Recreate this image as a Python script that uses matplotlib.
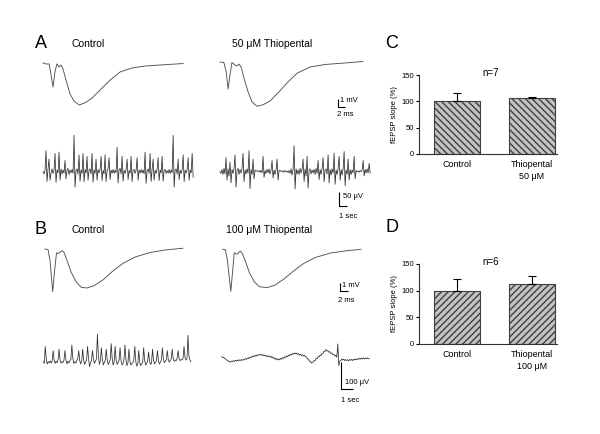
import matplotlib
matplotlib.use("Agg")
import matplotlib.pyplot as plt
import numpy as np

plt.rcParams["font.family"] = ["Liberation Sans", "DejaVu Sans"]

W, H = 600, 434

# field EPSP traces, time in ms and amplitude in mV
fepsp_a_ctrl_t = [0, 0.8, 1.6, 2.1, 2.6, 3.1, 3.6, 4.2, 4.7, 5.2, 6.0, 7.0, 8.1, 9.4,
                  10.9, 12.7, 14.8, 17.4, 20.0, 23.1, 26.5, 30.4, 36.4]
fepsp_a_ctrl_v = [0, -0.13, -0.13, -1.6, -3.2, -1.2, -0.13, -0.53, -0.27, -0.8, -2.3,
                  -4.1, -5.1, -5.6, -5.3, -4.7, -3.6, -2.3, -1.2, -0.67, -0.4, -0.27, -0.07]

fepsp_a_thio_t = [0, 1.0, 1.6, 2.1, 2.6, 3.1, 3.9, 4.4, 4.9, 5.5, 6.2, 7.3, 8.3, 9.6,
                  11.2, 13.0, 15.1, 17.4, 20.0, 23.4, 27.3, 32.5, 37.1]
fepsp_a_thio_v = [0, -0.07, -1.3, -3.6, -1.7, -0.07, -0.4, -0.53, -0.27, -0.67, -2.1,
                  -4.0, -5.3, -5.9, -5.7, -5.2, -4.1, -2.8, -1.5, -0.67, -0.33, -0.13, 0.07]

fepsp_b_ctrl_t = [0, 0.8, 1.3, 2.0, 2.5, 3.0, 3.4, 3.7, 4.2, 4.5, 4.9, 5.7, 6.8, 8.1,
                  9.4, 10.9, 12.7, 15.1, 17.7, 20.3, 23.4, 27.3, 31.2, 35.8]
fepsp_b_ctrl_v = [0, -0.07, -1.5, -5.7, -2.8, -0.5, -0.6, -0.53, -0.33, -0.23, -0.4,
                  -1.5, -3.1, -4.4, -5.1, -5.2, -4.9, -4.1, -2.9, -1.9, -1.07, -0.47, -0.13, 0.1]

fepsp_b_thio_t = [0, 0.7, 1.2, 2.1, 2.6, 3.0, 3.6, 3.9, 4.3, 4.6, 5.0, 5.9, 7.0, 8.3,
                  9.6, 11.6, 13.5, 15.8, 18.4, 21.0, 24.0, 28.0, 32.0, 35.9]
fepsp_b_thio_v = [0, -0.05, -1.4, -5.6, -2.8, -0.45, -0.65, -0.6, -0.35, -0.25, -0.45,
                  -1.6, -3.2, -4.4, -5.0, -5.1, -4.8, -4.0, -2.9, -1.9, -1.1, -0.5, -0.2, 0.0]

# EEG traces in microvolts, one sample per step of the sampling interval (s)
eeg_a_dt = 0.13
eeg_b_dt = 0.08

eeg_a_ctrl = [0, -8, 5, 75, -35, 8, 45, -30, -5, 10,
              -6, 4, 65, -38, 6, -4, 70, -30, 10, -8,
              6, -5, 40, -25, 5, 12, -10, 6, -4, 8,
              -6, 130, -55, 4, 10, -8, 60, -34, 6, -6,
              65, -36, 8, -5, 55, -30, 5, 10, -8, 65,
              -38, 6, -6, 45, -30, 8, -4, 6, 55, -32,
              5, -8, 60, -35, 4, 10, 50, -28, 6, -5,
              8, -6, 5, -4, 87, -40, 6, 12, -8, 55,
              -34, 5, -6, 8, 45, -28, 4, -5, 55, -36,
              6, 8, -6, 5, 50, -30, 6, -5, 8, -4,
              6, -8, 70, -42, 5, 10, -6, 65, -35, 8,
              45, -30, 5, -6, 8, 50, -32, 6, -4, 55,
              -34, 5, 8, -6, 4, -5, 8, -6, 6, -4,
              130, -55, 6, 10, -8, 45, -28, 5, -6, 8,
              60, -35, 6, -5, 8, 50, -30, 6, -4, 65,
              -20]

eeg_a_thio = [0, -6, 8, -10, 12, -8, 50, -30, 10, -15,
              35, -40, 8, -6, 10, 60, -55, 5, 12, -10,
              8, -5, 10, 66, -35, 6, -8, 10, -5, 75,
              -60, 8, -10, 45, -25, 6, 2, 4, 0, 3,
              -2, 5, -4, 55, -20, 4, -6, 8, -4, 10,
              -8, 5, 40, -22, 6, -10, 8, 45, -30, 5,
              2, 4, 0, 3, -2, 4, 0, 2, -3, 4,
              -6, 10, -12, 8, 93, -62, 10, -8, 6, -10,
              12, -5, 8, 45, -35, 10, -15, 55, -58, 6,
              10, -8, 6, -4, 8, -10, 12, -6, 40, -28,
              8, -10, 12, 50, -36, 6, 10, -8, 60, -40,
              8, -12, 10, -5, 66, -45, 6, -10, 12, 55,
              -30, 8, -12, 10, 72, -50, 6, -8, 45, -30,
              8, -10, 6, -4, 55, -25, 4, 0, 3, -2,
              4, 0, 6, 40, -15, 8, -5, 10, -4, 30,
              -5]

eeg_b_ctrl = [0, -6, 55, 10, -8, 0, -4, 3, -5, 2,
              40, 5, -6, 2, -4, 6, 45, 8, -5, 0,
              -3, 5, 40, 6, -8, 2, -4, 3, 8, 60,
              12, -6, 0, -5, 4, 10, 40, 4, -8, 2,
              45, 6, -10, 0, 6, 55, 10, -18, -4, 5,
              40, 8, -6, 2, 10, 100, 20, -10, 4, 50,
              8, -12, -2, 6, 45, 4, -10, -2, 8, 65,
              12, -12, 0, 55, 6, -10, -4, 5, 50, 4,
              -12, -6, 8, 60, 8, -14, -5, 45, 2, -12,
              -8, -4, 8, 55, 0, -16, -10, 40, -2, -14,
              -8, -2, 50, 4, -12, -6, 2, 35, 0, -10,
              -4, 45, 6, -8, -2, 4, 40, 2, -8, -2,
              6, 50, 10, -4, 2, 6, 40, 8, -2, 4,
              10, 45, 12, 2, 6, 4, 12, 40, 10, 4,
              8, 6, 12, 55, 14, 6, 10, 95, 20, 6,
              0]

eeg_b_thio = [18, 15, 16, 11, 10, 6, 5, 1, 2,
              -2, 2, 0, 4, 1, 5, 2, 6, 3, 7, 4, 8, 5,
              8, 6, 11, 8, 13, 11, 16, 13, 18, 16, 21, 18, 23, 20, 25, 22, 26,
              24, 27, 22, 25, 21, 24, 19, 22, 18, 21,
              17, 20, 14, 17, 11, 14, 8, 11, 6, 10,
              7, 12, 9, 15, 12, 18, 15, 21, 18, 24, 21, 27, 24, 30, 27, 32, 28,
              31, 26, 29, 24, 27, 22, 25, 20, 23, 18,
              18, 10, 10, 2, 2, -5, -2,
              -2, 5, 4, 12, 11, 18, 17, 24, 22,
              30, 30, 38, 37, 44,
              38, 40, 34, 36, 30, 31, 25, 27,
              20, 23, 16, 64, -14, 2, 4,
              10, 6, 9, 4, 8, 4, 7, 3, 8, 5, 8, 4, 9, 6, 10, 7, 11, 8, 12, 9,
              13, 10, 14, 10, 13, 11, 14, 10, 12]

# fEPSP slope, % of control
groups = ["Control", "Thiopental"]
slope_c_mean = [100, 106]
slope_c_sem = [15, 2.5]
slope_d_mean = [100, 112]
slope_d_sem = [22, 15]


def px_box(left, top, right, bottom):
    return [left / W, 1 - bottom / H, (right - left) / W, (bottom - top) / H]


def label(fig, x, y, s, size, ha="left", va="center"):
    fig.text(x / W, 1 - y / H, s, fontsize=size, ha=ha, va=va)


def trace_axes(fig, box, origin, scale):
    # box in pixels, origin = pixel position of data (0, 0), scale = px per unit
    left, top, right, bottom = box
    x0, y0 = origin
    xs, ys = scale
    ax = fig.add_axes(px_box(*box))
    ax.set_xlim((left - x0) / xs, (right - x0) / xs)
    ax.set_ylim((y0 - bottom) / ys, (y0 - top) / ys)
    ax.axis("off")
    return ax


def scale_bar(ax, corner, origin, scale, xlen, ylen):
    cx = (corner[0] - origin[0]) / scale[0]
    cy = (origin[1] - corner[1]) / scale[1]
    ax.plot([cx, cx, cx + xlen], [cy + ylen, cy, cy], color="k", lw=0.8,
            solid_capstyle="butt", clip_on=False)


def draw_fepsp(fig, box, origin, t, v):
    scale = (3.85, 7.5)
    ax = trace_axes(fig, box, origin, scale)
    ax.plot(t, v, color="#505050", lw=0.65)
    return ax, scale


def draw_eeg(fig, box, origin, vals, dt, xs, ys=0.28):
    scale = (xs, ys)
    ax = trace_axes(fig, box, origin, scale)
    t = np.arange(len(vals)) * dt
    ax.plot(t, vals, color="#2e2e2e", lw=0.55)
    return ax, scale


def bar_panel(fig, box, means, sems, n_text, conc, hatch):
    ax = fig.add_axes(px_box(*box))
    x = np.arange(len(groups))
    ax.bar(x, means, width=0.61, color="#c2c2c2", edgecolor="#404040",
           hatch=hatch, lw=0.8, zorder=2)
    ax.errorbar(x, means, yerr=[np.zeros(len(means)), sems], fmt="none",
                ecolor="k", elinewidth=0.8, capsize=3, capthick=0.8, zorder=3)
    ax.set_xlim(-0.5, 1.33)
    ax.set_ylim(0, 150)
    ax.set_yticks([0, 50, 100, 150])
    ax.set_xticks(x, [groups[0], groups[1] + "\n" + conc])
    ax.tick_params(axis="x", length=0, pad=4, labelsize=6.5)
    ax.tick_params(axis="y", length=2.5, width=0.8, pad=1.5, labelsize=5.5)
    for lab in ax.get_xticklabels():
        lab.set_linespacing(1.45)
    ax.spines["top"].set_visible(False)
    ax.spines["right"].set_visible(False)
    for s in ("left", "bottom"):
        ax.spines[s].set_linewidth(0.8)
        ax.spines[s].set_color("#303030")
    ax.set_ylabel("fEPSP slope (%)", fontsize=5.5, labelpad=2)
    label(fig, 491, box[1] - 2, n_text, 7, ha="center")
    return ax


def main():
    fig = plt.figure(figsize=(6, 4.34), dpi=100)

    # panel A
    draw_fepsp(fig, (38, 55, 200, 120), (43, 63), fepsp_a_ctrl_t, fepsp_a_ctrl_v)
    ax, sc = draw_fepsp(fig, (215, 55, 375, 122), (220, 62), fepsp_a_thio_t, fepsp_a_thio_v)
    scale_bar(ax, (337.7, 106.7), (220, 62), sc, 2, 1)
    label(fig, 340.5, 100, "1 mV", 5.5)
    label(fig, 337, 115, "2 ms", 5.5)

    draw_eeg(fig, (38, 125, 200, 200), (43, 171.7), eeg_a_ctrl, eeg_a_dt, 7.7)
    ax, sc = draw_eeg(fig, (215, 125, 380, 225), (220, 171.7), eeg_a_thio, eeg_a_dt, 7.7)
    scale_bar(ax, (339.3, 206), (220, 171.7), sc, 1, 50)
    label(fig, 343, 196, "50 μV", 5.5)
    label(fig, 339, 216.5, "1 sec", 5.5)

    # panel B
    draw_fepsp(fig, (40, 240, 200, 300), (45, 249), fepsp_b_ctrl_t, fepsp_b_ctrl_v)
    ax, sc = draw_fepsp(fig, (215, 240, 375, 305), (222.7, 249.3), fepsp_b_thio_t, fepsp_b_thio_v)
    scale_bar(ax, (340, 290.5), (222.7, 249.3), sc, 2, 1)
    label(fig, 342.5, 285.5, "1 mV", 5.5)
    label(fig, 337.5, 300, "2 ms", 5.5)

    draw_eeg(fig, (38, 320, 200, 375), (43.3, 361.7), eeg_b_ctrl, eeg_b_dt, 12.3, 0.2775)
    ax, sc = draw_eeg(fig, (215, 320, 380, 410), (221.7, 361.7), eeg_b_thio, eeg_b_dt, 12.3, 0.2775)
    scale_bar(ax, (341, 389.3), (221.7, 361.7), sc, 1, 100)
    label(fig, 345, 382, "100 μV", 5.5)
    label(fig, 341, 401, "1 sec", 5.5)

    # headers and panel letters
    label(fig, 41, 43, "A", 13, ha="center")
    label(fig, 72, 44, "Control", 7.5)
    label(fig, 232, 44, "50 μM Thiopental", 7.5)
    label(fig, 41, 229, "B", 13, ha="center")
    label(fig, 72, 230, "Control", 7.5)
    label(fig, 226, 230, "100 μM Thiopental", 7.5)
    label(fig, 392, 43, "C", 13, ha="center")
    label(fig, 392, 228, "D", 13, ha="center")

    # panels C and D
    bar_panel(fig, (419.3, 75, 556.6, 154), slope_c_mean, slope_c_sem, "n=7", "50 μM", "\\\\\\\\\\")
    bar_panel(fig, (419.3, 264, 556.6, 344), slope_d_mean, slope_d_sem, "n=6", "100 μM", "/////")

    fig.savefig("out.png", dpi=100)


if __name__ == "__main__":
    main()
